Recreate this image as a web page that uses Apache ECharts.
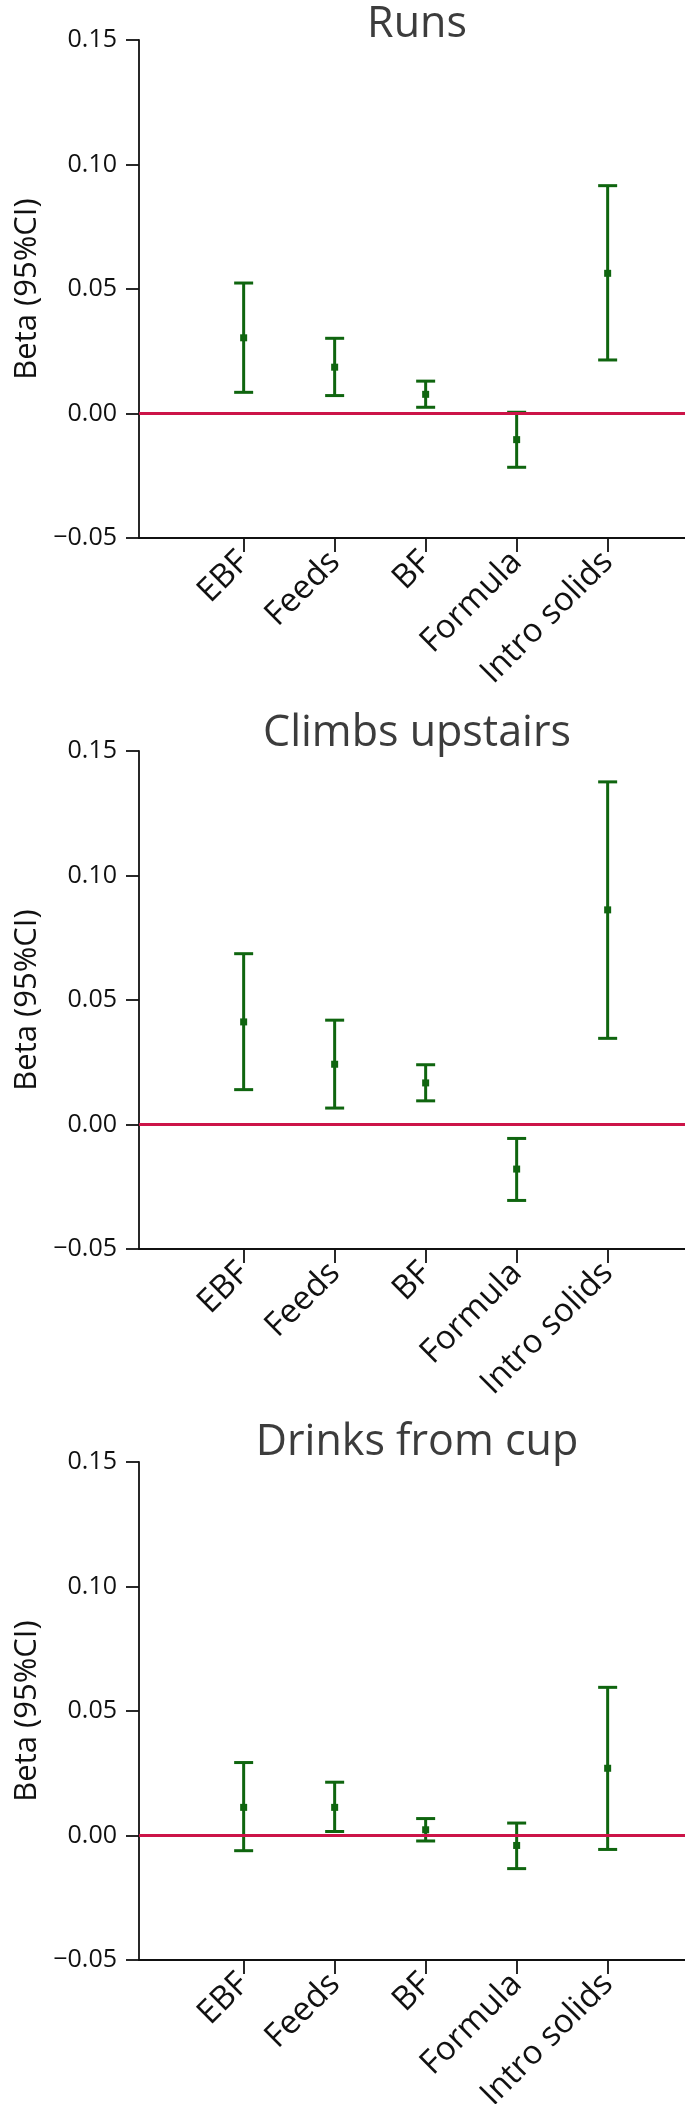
<!DOCTYPE html>
<html>
<head>
<meta charset="utf-8">
<script src="https://cdn.jsdelivr.net/npm/echarts@6/dist/echarts.min.js"></script>
<style>
  html, body { margin: 0; padding: 0; background: #fff; }
  #main { width: 685px; height: 2104px; }
</style>
</head>
<body>
<div id="main"></div>
<script>
// categories and positions on the x axis
var categories = ['EBF', 'Feeds', 'BF', 'Formula', 'Intro solids'];
var catPos = [1, 2, 3, 4, 5];
var titles = ['Runs', 'Climbs upstairs', 'Drinks from cup'];

// Runs
var runsBeta = [0.0304, 0.0186, 0.0077, -0.0105, 0.0563];
var runsLow  = [0.0085, 0.0072, 0.0025, -0.0216, 0.0215];
var runsHigh = [0.0524, 0.0302, 0.0130, 0.0005, 0.0915];
// Climbs upstairs
var climbsBeta = [0.0412, 0.0242, 0.0167, -0.0179, 0.0862];
var climbsLow  = [0.0140, 0.0066, 0.0095, -0.0305, 0.0346];
var climbsHigh = [0.0686, 0.0419, 0.0240, -0.0056, 0.1376];
// Drinks from cup
var drinksBeta = [0.0113, 0.0113, 0.0023, -0.0040, 0.0270];
var drinksLow  = [-0.0061, 0.0016, -0.0022, -0.0133, -0.0056];
var drinksHigh = [0.0293, 0.0214, 0.0068, 0.0050, 0.0595];

var yMin = -0.05, yMax = 0.15, yStep = 0.05;
var xMin = -0.15, xMax = 5.85;

var panels = [
  {beta: runsBeta, low: runsLow, high: runsHigh},
  {beta: climbsBeta, low: climbsLow, high: climbsHigh},
  {beta: drinksBeta, low: drinksLow, high: drinksHigh}
];

var green = '#0f650f';
var red = '#cc1448';
var font = '"Open Sans", "Noto Sans", sans-serif';
var gridTops = [40, 751, 1462];
var gridH = 498;
var titleTops = [-2, 707, 1416];

function renderErr(params, api){
  var x = api.value(0);
  var pLo = api.coord([x, api.value(1)]);
  var pMid = api.coord([x, api.value(2)]);
  var pHi = api.coord([x, api.value(3)]);
  var half = 9.5;
  var st = {stroke: green, lineWidth: 3};
  return {
    type: 'group',
    children: [
      {type: 'line', shape: {x1: pLo[0], y1: pLo[1], x2: pHi[0], y2: pHi[1]}, style: st},
      {type: 'line', shape: {x1: pLo[0] - half, y1: pLo[1], x2: pLo[0] + half, y2: pLo[1]}, style: st},
      {type: 'line', shape: {x1: pHi[0] - half, y1: pHi[1], x2: pHi[0] + half, y2: pHi[1]}, style: st},
      {type: 'rect', shape: {x: pMid[0] - 3.5, y: pMid[1] - 3.5, width: 7, height: 7}, style: {fill: green}}
    ]
  };
}

var option = {
  backgroundColor: '#fff',
  animation: false,
  title: [], grid: [], xAxis: [], yAxis: [], series: []
};

for (var i = 0; i < 3; i++) {
  option.title.push({
    text: titles[i],
    left: 412, top: titleTops[i], textAlign: 'center',
    textStyle: {fontFamily: font, fontSize: 43, fontWeight: 'normal', color: '#3c3c3c'}
  });
  option.grid.push({left: 139, right: 0, top: gridTops[i], height: gridH, outerBoundsMode: 'none', containLabel: false});
  option.xAxis.push({
    type: 'value', gridIndex: i, min: xMin, max: xMax,
    splitLine: {show: false},
    axisLine: {onZero: false, lineStyle: {color: '#111', width: 1.8}},
    axisTick: {show: true, length: 14, customValues: catPos, lineStyle: {color: '#111', width: 1.8}},
    axisLabel: {
      customValues: catPos, rotate: 45, margin: 19,
      fontFamily: font, fontSize: 33, color: '#111',
      formatter: function(v){ return categories[Math.round(v) - 1] || ''; }
    }
  });
  option.yAxis.push({
    type: 'value', gridIndex: i, min: yMin, max: yMax, interval: yStep,
    name: 'Beta (95%CI)', nameLocation: 'middle', nameGap: 92,
    nameTextStyle: {fontFamily: font, fontSize: 31, color: '#111'},
    splitLine: {show: false},
    axisLine: {onZero: false, lineStyle: {color: '#111', width: 1.8}},
    axisTick: {length: 13, lineStyle: {color: '#111', width: 1.8}},
    axisLabel: {
      margin: 22, fontFamily: font, fontSize: 25, color: '#111',
      formatter: function(v){ return v.toFixed(2).replace('-', '\u2212'); }
    }
  });
  // zero reference line
  option.series.push({
    type: 'line', xAxisIndex: i, yAxisIndex: i, symbol: 'none',
    lineStyle: {color: red, width: 2.8},
    data: [[xMin, 0], [xMax, 0]]
  });
  var d = [];
  for (var k = 0; k < categories.length; k++) {
    d.push([catPos[k], panels[i].low[k], panels[i].beta[k], panels[i].high[k]]);
  }
  option.series.push({
    type: 'custom', xAxisIndex: i, yAxisIndex: i,
    renderItem: renderErr,
    encode: {x: 0, y: [1, 2, 3]},
    data: d
  });
}

echarts.init(document.getElementById('main')).setOption(option);
</script>
</body>
</html>
